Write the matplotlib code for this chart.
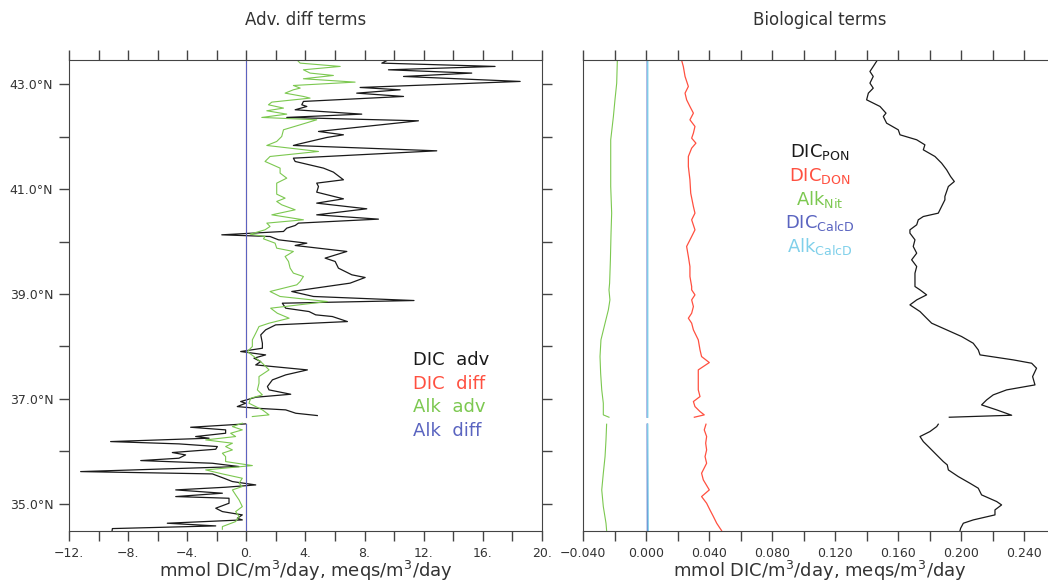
import numpy as np
import matplotlib.pyplot as plt
from matplotlib.ticker import MultipleLocator, FuncFormatter

nan = np.nan

# ---- left panel: advection / diffusion terms (value vs latitude) ----
lat_dic_adv = [43.464, 43.400, 43.337, 43.273, 43.210, 43.146, 43.051, 42.936, 42.892, 42.828,
               42.765, 42.670, 42.606, 42.574, 42.511, 42.428, 42.365, 42.301, 42.098, 42.034,
               41.983, 41.856, 41.831, 41.729, 41.589, 41.526, 41.399, 41.323, 41.177, 41.113,
               41.049, 40.941, 40.814, 40.732, 40.624, 40.509, 40.427, 40.351, 40.306, 40.255,
               40.192, 40.128, 40.096, 40.033, 39.969, 39.925, 39.811, 39.684, 39.620, 39.493,
               39.366, 39.315, 39.207, 39.048, 38.953, 38.876, 38.825, 38.730, 38.666, 38.603,
               38.571, 38.475, 38.412, 38.317, 38.221, 38.062, 37.967, 37.904, 37.840, 37.777,
               37.713, 37.649, 37.554, 37.459, 37.364, 37.237, 37.173, 37.090, 37.033, 36.951,
               36.919, 36.855, 36.824, 36.792, 36.728, 36.684, 36.59,
               36.525, 36.461, 36.411, 36.347, 36.284, 36.252, 36.188, 36.144, 36.093, 36.042,
               35.979, 35.934, 35.871, 35.826, 35.775, 35.712, 35.616, 35.572, 35.489, 35.426,
               35.362, 35.318, 35.267, 35.204, 35.140, 35.108, 35.013, 34.918, 34.854, 34.791,
               34.727, 34.695, 34.632, 34.581, 34.530, 34.490]
dic_adv = [9.62, 9.17, 16.84, 9.62, 15.26, 10.64, 18.54, 7.70, 10.41, 7.47,
           10.64, 3.86, 3.75, 4.09, 3.30, 7.81, 2.73, 11.65, 4.88, 6.57,
           5.44, 3.52, 3.18, 12.89, 3.18, 3.30, 5.22, 5.89, 6.57, 4.76,
           4.88, 4.76, 6.57, 4.76, 8.15, 4.76, 8.94, 3.52, 3.30, 2.73,
           2.51, -1.67, 1.60, 2.17, 4.09, 3.30, 6.80, 5.33, 6.01, 6.23,
           7.14, 8.04, 7.02, 3.07, 4.54, 11.35, 2.43, 2.66, 4.24, 4.69,
           5.82, 6.84, 1.98, 1.30, 0.97, 1.08, 1.08, -0.39, 1.30, 0.51,
           0.97, 0.63, 4.13, 2.66, 1.76, 1.42, 1.53, 3.00, 0.63, -0.39,
           -0.05, -0.62, 0.63, 2.66, 3.34, 4.80, nan,
           -0.05, -3.78, -1.41, -1.41, -3.44, -2.53, -9.20, -4.57, -1.97, -2.08,
           -5.02, -4.12, -4.57, -7.16, -2.31, -0.50, -11.23, -2.31, -1.52, -0.95,
           0.63, -1.41, -4.79, -1.63, -4.79, -1.18, -1.18, -2.08, -1.63, -0.28,
           -0.62, -0.28, -5.36, -2.08, -9.08, -9.10]

lat_alk_adv = [43.464, 43.400, 43.337, 43.273, 43.210, 43.165, 43.102, 43.038, 42.974, 42.924,
               42.892, 42.828, 42.765, 42.733, 42.657, 42.606, 42.543, 42.492, 42.428, 42.365,
               42.320, 42.225, 42.130, 42.002, 41.907, 41.831, 41.717, 41.621, 41.526, 41.399,
               41.304, 41.208, 41.113, 41.018, 40.903, 40.827, 40.764, 40.700, 40.605, 40.509,
               40.414, 40.351, 40.287, 40.224, 40.141, 40.096, 40.052, 39.969, 39.874, 39.811,
               39.715, 39.620, 39.493, 39.398, 39.334, 39.239, 39.175, 39.048, 38.953, 38.857,
               38.730, 38.634, 38.539, 38.444, 38.380, 38.253, 38.126, 37.999, 37.904, 37.808,
               37.681, 37.554, 37.427, 37.300, 37.173, 37.078, 37.014, 36.919, 36.792, 36.697,
               36.665, 36.59,
               36.538, 36.474, 36.411, 36.347, 36.284, 36.220, 36.157, 36.093, 36.029, 35.966,
               35.902, 35.807, 35.731, 35.648, 35.572, 35.489, 35.394, 35.331, 35.267, 35.172,
               35.076, 34.949, 34.854, 34.759, 34.664, 34.568, 34.517]
alk_adv = [3.41, 3.64, 6.35, 3.86, 4.31, 5.89, 3.86, 7.36, 3.18, 3.64,
           3.18, 2.62, 3.86, 4.31, 1.72, 1.49, 2.51, 1.38, 2.73, 1.04,
           4.76, 3.64, 2.51, 2.39, 2.05, 1.38, 4.88, 1.60, 1.26, 2.28,
           2.28, 2.73, 2.05, 2.05, 2.05, 2.62, 2.05, 2.39, 3.30, 1.72,
           3.86, 1.38, 1.60, 1.26, 0.25, 1.26, 1.15, 1.94, 2.05, 3.18,
           2.62, 2.85, 2.96, 3.18, 3.86, 3.64, 3.41, 1.60, 2.28, 5.48,
           1.64, 2.09, 2.89, 1.53, 0.85, 0.63, 0.40, 0.40, 0.06, 0.51,
           1.08, 1.53, 0.85, 0.85, 0.74, 1.08, 0.29, 0.17, 1.08, 1.53,
           0.40, nan,
           -0.28, -0.95, -0.28, -1.07, -0.73, -2.76, -0.95, -1.41, -0.95, -1.63,
           -1.41, -1.41, 0.40, -2.76, -1.63, -0.28, -0.50, -0.28, -0.95, -0.73,
           -0.50, -0.28, -0.73, -0.50, -0.73, -1.63, -1.63]

lat_diff = [43.46, 36.65, 36.59, 36.53, 34.49]
dic_diff = [0.0, 0.0, nan, 0.0, 0.0]
alk_diff = [0.0, 0.0, nan, 0.0, 0.0]

# ---- right panel: biological terms ----
lat_pon = [43.457, 43.336, 43.241, 43.146, 43.019, 42.923, 42.828, 42.701, 42.574, 42.447,
           42.383, 42.256, 42.129, 42.034, 41.939, 41.843, 41.748, 41.621, 41.494, 41.367,
           41.240, 41.144, 41.049, 40.954, 40.859, 40.795, 40.668, 40.541, 40.477, 40.414,
           40.319, 40.223, 40.160, 40.033, 39.906, 39.778, 39.652, 39.524, 39.397, 39.270,
           39.143, 39.079, 38.984, 38.888, 38.793, 38.666, 38.539, 38.444, 38.317, 38.190,
           38.062, 37.935, 37.840, 37.745, 37.681, 37.586, 37.427, 37.268, 37.173, 37.078,
           36.982, 36.887, 36.792, 36.690, 36.652, 36.59,
           36.519, 36.474, 36.379, 36.284, 36.188, 36.093, 35.966, 35.807, 35.744, 35.648,
           35.521, 35.394, 35.299, 35.172, 35.045, 34.981, 34.886, 34.791, 34.695, 34.632,
           34.536, 34.492]
dic_pon = [0.1467, 0.1441, 0.1420, 0.1441, 0.1420, 0.1441, 0.1410, 0.1399, 0.1484, 0.1522,
           0.1505, 0.1526, 0.1600, 0.1611, 0.1717, 0.1769, 0.1759, 0.1833, 0.1875, 0.1907,
           0.1932, 0.1956, 0.1918, 0.1907, 0.1896, 0.1896, 0.1875, 0.1854, 0.1759, 0.1727,
           0.1717, 0.1674, 0.1674, 0.1706, 0.1695, 0.1717, 0.1685, 0.1717, 0.1706, 0.1706,
           0.1706, 0.1738, 0.1780, 0.1717, 0.1674, 0.1738, 0.1780, 0.1812, 0.1907, 0.2002,
           0.2076, 0.2108, 0.2119, 0.2330, 0.2447, 0.2478, 0.2453, 0.2468, 0.2288, 0.2203,
           0.2161, 0.2129, 0.2225, 0.2320, 0.1924, nan,
           0.1854, 0.1844, 0.1801, 0.1738, 0.1759, 0.1791, 0.1833, 0.1886, 0.1911, 0.1918,
           0.1981, 0.2055, 0.2108, 0.2129, 0.2225, 0.2256, 0.2214, 0.2214, 0.2076, 0.2013,
           0.1996, 0.1992]

lat_don = [43.457, 43.336, 43.146, 42.955, 42.828, 42.701, 42.574, 42.447, 42.320, 42.193,
           42.066, 41.970, 41.875, 41.780, 41.621, 41.430, 41.176, 40.922, 40.668, 40.541,
           40.414, 40.223, 40.096, 39.906, 39.715, 39.524, 39.334, 39.143, 39.079, 38.984,
           38.888, 38.761, 38.634, 38.539, 38.444, 38.317, 38.126, 37.935, 37.808, 37.694,
           37.554, 37.364, 37.173, 37.046, 36.951, 36.855, 36.760, 36.697, 36.652, 36.59,
           36.519, 36.411, 36.284, 36.157, 36.029, 35.902, 35.775, 35.585, 35.458, 35.267,
           35.140, 35.013, 34.886, 34.759, 34.632, 34.536, 34.492]
dic_don = [0.0224, 0.0235, 0.0246, 0.0267, 0.0246, 0.0256, 0.0277, 0.0299, 0.0277, 0.0309,
           0.0299, 0.0288, 0.0315, 0.0288, 0.0267, 0.0267, 0.0277, 0.0282, 0.0299, 0.0309,
           0.0288, 0.0309, 0.0288, 0.0256, 0.0267, 0.0277, 0.0277, 0.0288, 0.0288, 0.0309,
           0.0288, 0.0299, 0.0288, 0.0267, 0.0288, 0.0299, 0.0330, 0.0341, 0.0351, 0.0400,
           0.0330, 0.0330, 0.0330, 0.0341, 0.0299, 0.0309, 0.0341, 0.0368, 0.0305, nan,
           0.0379, 0.0368, 0.0383, 0.0377, 0.0383, 0.0373, 0.0383, 0.0351, 0.0362, 0.0400,
           0.0351, 0.0383, 0.0404, 0.0426, 0.0447, 0.0468, 0.0478]

lat_nit = [43.457, 43.019, 42.701, 42.383, 41.939, 41.557, 41.049, 40.541, 40.160, 39.652,
           39.207, 39.079, 38.888, 38.698, 38.444, 38.126, 37.808, 37.491, 37.173, 36.919,
           36.697, 36.652, 36.59,
           36.519, 36.220, 35.902, 35.585, 35.267, 34.949, 34.632, 34.492]
alk_nit = [-0.0184, -0.0188, -0.0199, -0.0209, -0.0226, -0.0226, -0.0226, -0.0220, -0.0224, -0.0228,
           -0.0233, -0.0237, -0.0231, -0.0241, -0.0262, -0.0288, -0.0294, -0.0290, -0.0283, -0.0273,
           -0.0273, -0.0237, nan,
           -0.0252, -0.0256, -0.0262, -0.0273, -0.0283, -0.0273, -0.0256, -0.0252]

lat_calc = [43.457, 36.652, 36.59, 36.519, 34.492]
dic_calcd = [0.0006, 0.0006, nan, 0.0006, 0.0007]
alk_calcd = [0.0009, 0.0009, nan, 0.0009, 0.0012]

c_black = '#1a1a1a'
c_red = '#ff5040'
c_green = '#7cc850'
c_blue = '#5a64c0'
c_cyan = '#80d0ea'
c_axis = '#444444'
c_text = '#333333'

plt.rcParams['font.family'] = 'DejaVu Sans'
plt.rcParams['axes.edgecolor'] = c_axis
plt.rcParams['xtick.color'] = c_axis
plt.rcParams['ytick.color'] = c_axis
plt.rcParams['xtick.labelcolor'] = c_text
plt.rcParams['ytick.labelcolor'] = c_text


def fmt_left(v, p):
    return ('%g.' % v).replace('-', '\u2212')


def fmt_right(v, p):
    return ('%.3f' % v).replace('-', '\u2212')


fig = plt.figure(figsize=(10.48, 5.84), dpi=100)
ax1 = fig.add_axes([0.0661, 0.0913, 0.4508, 0.806])
ax2 = fig.add_axes([0.5566, 0.0913, 0.4508, 0.806])

xlab = r'mmol DIC/m$^3$/day, meqs/m$^3$/day'

# left panel
ax1.plot(dic_adv, lat_dic_adv, color=c_black, lw=0.9)
ax1.plot(alk_adv, lat_alk_adv, color=c_green, lw=0.8)
ax1.plot(dic_diff, lat_diff, color=c_red, lw=0.8)
ax1.plot(alk_diff, lat_diff, color=c_blue, lw=0.8)
ax1.set_xlim(-12, 20)
ax1.set_ylim(34.49, 43.46)
ax1.xaxis.set_major_locator(MultipleLocator(4))
ax1.xaxis.set_minor_locator(MultipleLocator(2))
ax1.xaxis.set_major_formatter(FuncFormatter(fmt_left))
ax1.yaxis.set_major_locator(MultipleLocator(2, offset=1))
ax1.yaxis.set_minor_locator(MultipleLocator(1))
ax1.yaxis.set_major_formatter(FuncFormatter(lambda v, p: '%.1f\u00b0N' % v))
ax1.tick_params(which='both', direction='out', length=7.5, width=1, top=True, right=True,
                labelsize=9, pad=4)
ax1.set_title('Adv. diff terms', fontsize=12, pad=25, color=c_text)

leg_left = [('DIC  adv', c_black), ('DIC  diff', c_red), ('Alk  adv', c_green), ('Alk  diff', c_blue)]
for i, (txt, col) in enumerate(leg_left):
    ax1.text(0.7276, 0.3627 - i * 0.0503, txt, color=col, fontsize=13,
             transform=ax1.transAxes, ha='left', va='center')

# right panel
ax2.plot(dic_pon, lat_pon, color=c_black, lw=0.9)
ax2.plot(dic_don, lat_don, color=c_red, lw=0.9)
ax2.plot(alk_nit, lat_nit, color=c_green, lw=0.8)
ax2.plot(dic_calcd, lat_calc, color=c_blue, lw=1.0)
ax2.plot(alk_calcd, lat_calc, color=c_cyan, lw=1.0)
ax2.set_xlim(-0.04, 0.26)
ax2.set_ylim(34.49, 43.46)
ax2.xaxis.set_major_locator(MultipleLocator(0.04))
ax2.xaxis.set_minor_locator(MultipleLocator(0.02))
ax2.xaxis.set_major_formatter(FuncFormatter(fmt_right))
ax2.set_yticks([])
ax2.tick_params(which='both', direction='out', length=7.5, width=1, top=True,
                labelsize=9, pad=4)
ax2.set_title('Biological terms', fontsize=12, pad=25, color=c_text)

leg_right = [(r'DIC$_{\mathrm{PON}}$', c_black), (r'DIC$_{\mathrm{DON}}$', c_red),
             (r'Alk$_{\mathrm{Nit}}$', c_green), (r'DIC$_{\mathrm{CalcD}}$', c_blue),
             (r'Alk$_{\mathrm{CalcD}}$', c_cyan)]
for i, (txt, col) in enumerate(leg_right):
    ax2.text(0.501, 0.805 - i * 0.0505, txt, color=col, fontsize=13,
             transform=ax2.transAxes, ha='center', va='center')

# x-axis titles, placed as figure text so the descenders stay inside the canvas
fig.text(305.5 / 1048, 1 - 571 / 584, xlab, fontsize=13, color=c_text, ha='center', va='center')
fig.text(819.5 / 1048, 1 - 571 / 584, xlab, fontsize=13, color=c_text, ha='center', va='center')

fig.savefig('out.png', dpi=100)
